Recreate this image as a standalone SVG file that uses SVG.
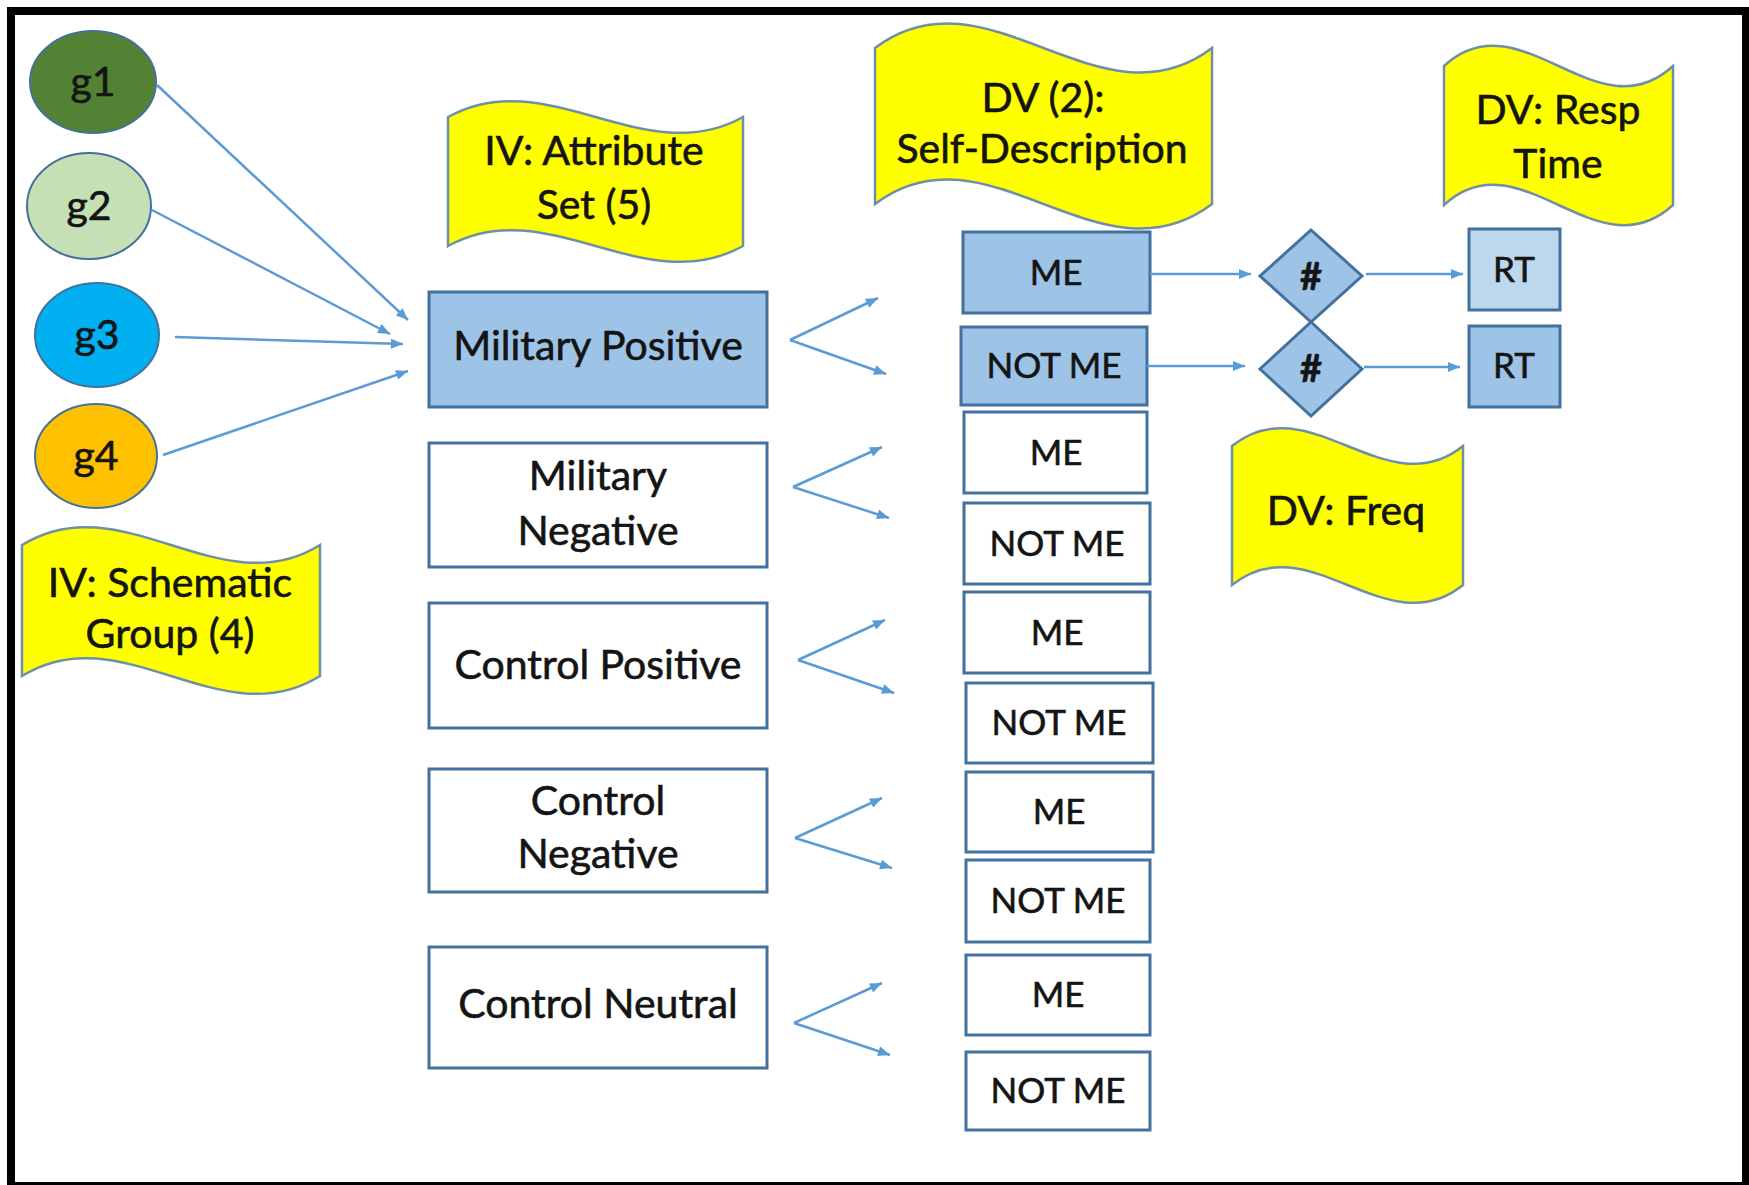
<svg xmlns="http://www.w3.org/2000/svg" width="1749" height="1185" viewBox="0 0 1749 1185">
  <style>
    text { font-family: Lato, "Open Sans", "Liberation Sans", sans-serif; fill: #141414; stroke: #141414; stroke-width: 0.6; text-anchor: middle; }
    .big { font-size: 41px; }
    .mid { font-size: 35px; }
    .hash { font-size: 38px; font-weight: bold; }
    .wave { fill: #FFFF00; stroke: #6F8FA8; stroke-width: 2.5; }
    .box { fill: #FFFFFF; stroke: #41719C; stroke-width: 3; }
    .box.on { fill: #9DC3E6; }
    .box.pale { fill: #BDD7EE; }
    .oval { stroke: #41719C; stroke-width: 2; }
    .link { stroke: #5B9BD5; stroke-width: 2.5; fill: none; marker-end: url(#tip); }
  </style>
  <defs>
    <marker id="tip" viewBox="0 0 12 10" refX="12" refY="5" markerWidth="13" markerHeight="10" markerUnits="userSpaceOnUse" orient="auto">
      <path d="M0,0 L12,5 L0,10 z" fill="#5B9BD5"/>
    </marker>
  </defs>

  <!-- page -->
  <rect x="0" y="0" width="1749" height="1185" fill="#FFFFFF"/>
  <rect x="11" y="11" width="1735" height="1175" fill="none" stroke="#000000" stroke-width="8"/>

  <!-- schematic groups -->
  <g id="g1"><ellipse class="oval" cx="93" cy="82" rx="63" ry="51" fill="#548235"/><text class="big" x="93" y="96">g1</text></g>
  <g id="g2"><ellipse class="oval" cx="89" cy="206" rx="62" ry="53" fill="#C5E0B4"/><text class="big" x="89" y="220">g2</text></g>
  <g id="g3"><ellipse class="oval" cx="97" cy="335" rx="62" ry="52" fill="#00B0F0"/><text class="big" x="97" y="349">g3</text></g>
  <g id="g4"><ellipse class="oval" cx="96" cy="456" rx="61" ry="52" fill="#FFC000"/><text class="big" x="96" y="470">g4</text></g>

  <!-- variable labels -->
  <g id="label-schematic">
    <path class="wave" d="M22,545 C121.3,483 220.7,607 320,545 L320,676 C220.7,738 121.3,614 22,676 Z"/>
    <text class="big" x="170" y="597">IV: Schematic</text>
    <text class="big" x="170" y="648">Group (4)</text>
  </g>
  <g id="label-attribute">
    <path class="wave" d="M448,117 C546.3,62 644.7,172 743,117 L743,246 C644.7,301 546.3,191 448,246 Z"/>
    <text class="big" x="594" y="165">IV: Attribute</text>
    <text class="big" x="594" y="219">Set (5)</text>
  </g>
  <g id="label-selfdesc">
    <path class="wave" d="M875,48 C987.3,-37 1099.7,133 1212,48 L1212,204 C1099.7,289 987.3,119 875,204 Z"/>
    <text class="big" x="1043" y="112">DV (2):</text>
    <text class="big" x="1042" y="163">Self-Description</text>
  </g>
  <g id="label-resptime">
    <path class="wave" d="M1444,66 C1520.3,-4 1596.7,136 1673,66 L1673,205 C1596.7,275 1520.3,135 1444,205 Z"/>
    <text class="big" x="1558" y="124">DV: Resp</text>
    <text class="big" x="1558" y="178">Time</text>
  </g>
  <g id="label-freq">
    <path class="wave" d="M1232,446 C1309,384 1386,508 1463,446 L1463,585 C1386,647 1309,523 1232,585 Z"/>
    <text class="big" x="1346" y="525">DV: Freq</text>
  </g>

  <!-- attribute sets -->
  <g id="military-positive"><rect class="box on" x="429" y="292" width="338" height="115"/><text class="big" x="598" y="360">Military Positive</text></g>
  <g id="military-negative"><rect class="box" x="429" y="443" width="338" height="124"/><text class="big" x="598" y="490">Military</text><text class="big" x="598" y="545">Negative</text></g>
  <g id="control-positive"><rect class="box" x="429" y="603" width="338" height="125"/><text class="big" x="598" y="679">Control Positive</text></g>
  <g id="control-negative"><rect class="box" x="429" y="769" width="338" height="123"/><text class="big" x="598" y="815">Control</text><text class="big" x="598" y="868">Negative</text></g>
  <g id="control-neutral"><rect class="box" x="429" y="947" width="338" height="121"/><text class="big" x="598" y="1018">Control Neutral</text></g>

  <!-- self-description responses -->
  <g id="mp-me"><rect class="box on" x="963" y="232" width="187" height="81"/><text class="mid" x="1056" y="285">ME</text></g>
  <g id="mp-notme"><rect class="box on" x="961" y="327" width="186" height="78"/><text class="mid" x="1054" y="378">NOT ME</text></g>
  <g id="mn-me"><rect class="box" x="964" y="412" width="183" height="81"/><text class="mid" x="1056" y="465">ME</text></g>
  <g id="mn-notme"><rect class="box" x="964" y="503" width="186" height="81"/><text class="mid" x="1057" y="556">NOT ME</text></g>
  <g id="cp-me"><rect class="box" x="964" y="592" width="186" height="81"/><text class="mid" x="1057" y="645">ME</text></g>
  <g id="cp-notme"><rect class="box" x="966" y="683" width="187" height="80"/><text class="mid" x="1059" y="735">NOT ME</text></g>
  <g id="cn-me"><rect class="box" x="966" y="772" width="187" height="80"/><text class="mid" x="1059" y="824">ME</text></g>
  <g id="cn-notme"><rect class="box" x="966" y="860" width="184" height="82"/><text class="mid" x="1058" y="913">NOT ME</text></g>
  <g id="cneu-me"><rect class="box" x="966" y="955" width="184" height="80"/><text class="mid" x="1058" y="1007">ME</text></g>
  <g id="cneu-notme"><rect class="box" x="966" y="1052" width="184" height="78"/><text class="mid" x="1058" y="1103">NOT ME</text></g>

  <!-- frequency counts -->
  <g id="freq-me"><path class="box on" d="M1311,230 L1362,276 L1311,322 L1260,276 Z" stroke-width="2.5"/><text class="hash" x="1311" y="290">#</text></g>
  <g id="freq-notme"><path class="box on" d="M1311,322 L1362,369 L1311,416 L1260,369 Z" stroke-width="2.5"/><text class="hash" x="1311" y="382">#</text></g>

  <!-- response times -->
  <g id="rt-me"><rect class="box pale" x="1469" y="229" width="91" height="81"/><text class="mid" x="1514" y="282">RT</text></g>
  <g id="rt-notme"><rect class="box on" x="1469" y="326" width="91" height="81"/><text class="mid" x="1514" y="378">RT</text></g>

  <!-- connectors -->
  <g id="connectors">
    <line class="link" x1="157" y1="85" x2="408" y2="320"/>
    <line class="link" x1="152" y1="210" x2="390" y2="334"/>
    <line class="link" x1="175" y1="337" x2="403" y2="344"/>
    <line class="link" x1="163" y1="455" x2="408" y2="371"/>

    <line class="link" x1="790" y1="340" x2="878" y2="298"/>
    <line class="link" x1="790" y1="340" x2="886" y2="374"/>
    <line class="link" x1="793" y1="487" x2="882" y2="447"/>
    <line class="link" x1="793" y1="487" x2="889" y2="518"/>
    <line class="link" x1="798" y1="660" x2="885" y2="620"/>
    <line class="link" x1="798" y1="660" x2="894" y2="693"/>
    <line class="link" x1="795" y1="838" x2="882" y2="798"/>
    <line class="link" x1="795" y1="838" x2="892" y2="868"/>
    <line class="link" x1="794" y1="1023" x2="882" y2="983"/>
    <line class="link" x1="794" y1="1023" x2="890" y2="1055"/>

    <line class="link" x1="1150" y1="274" x2="1251" y2="274"/>
    <line class="link" x1="1147" y1="366" x2="1245" y2="366"/>
    <line class="link" x1="1366" y1="274" x2="1463" y2="274"/>
    <line class="link" x1="1364" y1="367" x2="1460" y2="367"/>
  </g>
</svg>
